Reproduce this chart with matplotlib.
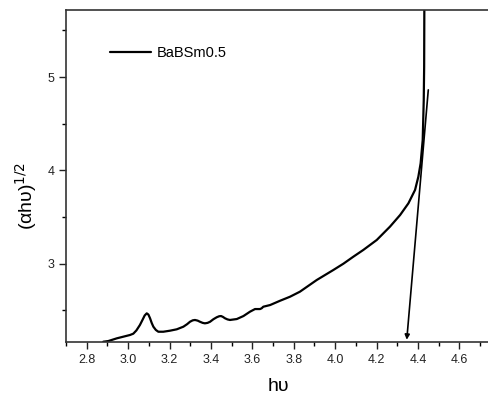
import matplotlib
matplotlib.use("Agg")
import matplotlib.pyplot as plt
from matplotlib.ticker import MultipleLocator

plt.rcParams['font.family'] = ['Liberation Sans', 'DejaVu Sans']

# absorption edge curve
hv = [2.880, 2.904, 2.945, 2.977, 3.009, 3.025, 3.040, 3.057, 3.070, 3.080,
      3.090, 3.098, 3.106, 3.114, 3.122, 3.134, 3.146, 3.170, 3.202, 3.235,
      3.267, 3.285, 3.299, 3.312, 3.323, 3.336, 3.347, 3.360, 3.371, 3.384,
      3.396, 3.412, 3.428, 3.440, 3.449, 3.458, 3.468, 3.480, 3.492, 3.525,
      3.557, 3.589, 3.613, 3.637, 3.645, 3.653, 3.686, 3.734, 3.782, 3.830,
      3.911, 3.991, 4.040, 4.088, 4.136, 4.201, 4.265, 4.314, 4.354, 4.386,
      4.402, 4.413, 4.423, 4.428, 4.430, 4.431]
ahv = [2.164, 2.171, 2.200, 2.218, 2.236, 2.250, 2.285, 2.343, 2.400, 2.445,
       2.468, 2.455, 2.415, 2.365, 2.325, 2.290, 2.271, 2.271, 2.282, 2.297,
       2.325, 2.352, 2.378, 2.393, 2.397, 2.390, 2.378, 2.366, 2.361, 2.366,
       2.378, 2.405, 2.426, 2.437, 2.439, 2.430, 2.415, 2.403, 2.397, 2.407,
       2.439, 2.486, 2.514, 2.514, 2.522, 2.539, 2.557, 2.603, 2.646, 2.700,
       2.825, 2.932, 3.000, 3.075, 3.147, 3.254, 3.397, 3.522, 3.647, 3.790,
       3.932, 4.076, 4.326, 4.750, 5.110, 5.800]

# tangent (extrapolation) line with arrow at the intercept
tangent_start = (4.450, 4.862)
tangent_end = (4.346, 2.185)

fig = plt.figure(figsize=(4.88, 3.94), dpi=100)
ax = fig.add_axes([66 / 488, 52 / 394, 424.4 / 488, 332 / 394])

ax.plot(hv, ahv, color='black', lw=1.6, label='BaBSm0.5',
        solid_joinstyle='round', solid_capstyle='round')
ax.annotate('', xy=tangent_end, xytext=tangent_start,
            arrowprops=dict(arrowstyle='-|>', color='black', lw=1.2,
                            mutation_scale=7, shrinkA=0, shrinkB=0))

ax.set_xlim(2.7, 4.75)
ax.set_ylim(2.161, 5.718)
ax.xaxis.set_major_locator(MultipleLocator(0.2))
ax.xaxis.set_minor_locator(MultipleLocator(0.1))
ax.yaxis.set_major_locator(MultipleLocator(1))
ax.yaxis.set_minor_locator(MultipleLocator(0.5))
ax.xaxis.set_major_formatter(plt.FuncFormatter(lambda v, p: f"{v:.1f}"))
ax.tick_params(which='major', direction='out', length=5, width=1, labelsize=9, colors='#222222')
ax.tick_params(which='minor', direction='out', length=3, width=1)
for s in ax.spines.values():
    s.set_color('#333333')
    s.set_linewidth(1.2)

ax.set_xlabel('hυ', fontsize=14, labelpad=9)
ax.set_ylabel('(αhυ)$^{1/2}$', fontsize=14)
ax.yaxis.set_label_coords(-(66 - 39) / 424.4, 0.44)

ax.legend(loc='center left', bbox_to_anchor=((110 - 66) / 424.4, (342 - 53.3) / 332),
          frameon=False, fontsize=10.5, handlelength=2.8, handletextpad=0.4,
          borderpad=0, borderaxespad=0)

fig.savefig('out.png', dpi=100)
